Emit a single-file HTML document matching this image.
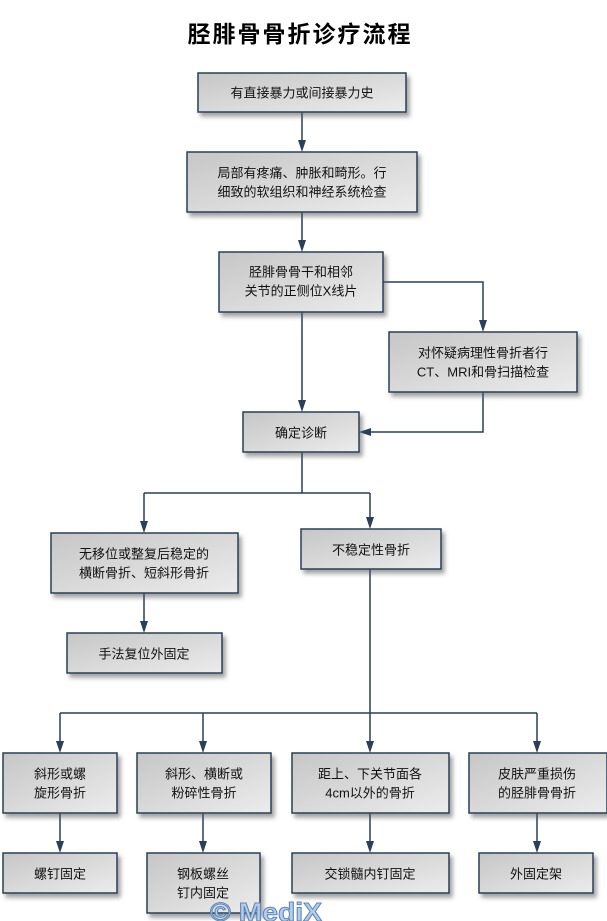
<!DOCTYPE html>
<html><head><meta charset="utf-8"><style>
html,body{margin:0;padding:0;background:#fff;}
svg{display:block;}
text{font-family:"Liberation Sans","Noto Sans CJK SC",sans-serif;}
.t{font-size:13px;fill:#111;text-anchor:middle;dominant-baseline:central;}
.l{stroke:#2b3f58;stroke-width:1.5;fill:none;}
.a{fill:#2b3f58;}
.b{fill:url(#g);stroke:#2b3f58;stroke-width:1.5;filter:url(#sh);}
</style></head><body>
<svg width="607" height="921" viewBox="0 0 607 921" xmlns="http://www.w3.org/2000/svg">
<defs>
<linearGradient id="g" x1="0" y1="0" x2="1" y2="1">
<stop offset="0" stop-color="#c6c6c6"/><stop offset="1" stop-color="#ececec"/>
</linearGradient>
<filter id="sh" x="-10%" y="-20%" width="130%" height="150%">
<feDropShadow dx="3" dy="4" stdDeviation="2" flood-color="#555" flood-opacity="0.55"/>
</filter>
</defs>
<text x="300" y="34" style="font-size:23px;font-weight:bold;letter-spacing:2px;fill:#000;text-anchor:middle;dominant-baseline:central;">胫腓骨骨折诊疗流程</text>

<!-- connectors -->
<path class="l" d="M302 112V144 M302 212V244 M302 312V404 M383 282H483V324 M483 392V432H367 M302 452V493 M144 493H370 M144 493V525 M370 493V521 M144 593V625 M370 569V713 M60 713H537 M60 713V745 M203 713V745 M370 713V745 M537 713V745 M60 813V845 M203 813V845 M370 813V845 M537 813V845"/>
<g class="a">
<path d="M302 152l-4-12h8z"/>
<path d="M302 252l-4-12h8z"/>
<path d="M302 412l-4-12h8z"/>
<path d="M483 332l-4-12h8z"/>
<path d="M359 432l12-4v8z"/>
<path d="M144 533l-4-12h8z"/>
<path d="M370 529l-4-12h8z"/>
<path d="M144 633l-4-12h8z"/>
<path d="M60 753l-4-12h8z"/>
<path d="M203 753l-4-12h8z"/>
<path d="M370 753l-4-12h8z"/>
<path d="M537 753l-4-12h8z"/>
<path d="M60 853l-4-12h8z"/>
<path d="M203 853l-4-12h8z"/>
<path d="M370 853l-4-12h8z"/>
<path d="M537 853l-4-12h8z"/>
</g>

<!-- boxes -->
<rect class="b" x="198" y="73" width="208" height="39"/>
<text class="t" x="302" y="93">有直接暴力或间接暴力史</text>

<rect class="b" x="187" y="152" width="230" height="60"/>
<text class="t" x="302" y="173">局部有疼痛、肿胀和畸形。行</text>
<text class="t" x="302" y="192">细致的软组织和神经系统检查</text>

<rect class="b" x="219" y="252" width="164" height="60"/>
<text class="t" x="301" y="272">胫腓骨骨干和相邻</text>
<text class="t" x="301" y="291">关节的正侧位X线片</text>

<rect class="b" x="389" y="332" width="188" height="60"/>
<text class="t" x="483" y="353">对怀疑病理性骨折者行</text>
<text class="t" x="483" y="372">CT、MRI和骨扫描检查</text>

<rect class="b" x="243" y="412" width="116" height="40"/>
<text class="t" x="301" y="433">确定诊断</text>

<rect class="b" x="51" y="533" width="187" height="60"/>
<text class="t" x="144" y="554">无移位或整复后稳定的</text>
<text class="t" x="144" y="573">横断骨折、短斜形骨折</text>

<rect class="b" x="301" y="529" width="140" height="40"/>
<text class="t" x="371" y="550">不稳定性骨折</text>

<rect class="b" x="67" y="633" width="155" height="40"/>
<text class="t" x="144" y="654">手法复位外固定</text>

<rect class="b" x="3" y="753" width="114" height="60"/>
<text class="t" x="60" y="774">斜形或螺</text>
<text class="t" x="60" y="793">旋形骨折</text>

<rect class="b" x="137" y="753" width="134" height="60"/>
<text class="t" x="204" y="774">斜形、横断或</text>
<text class="t" x="204" y="793">粉碎性骨折</text>

<rect class="b" x="292" y="753" width="157" height="60"/>
<text class="t" x="370" y="774">距上、下关节面各</text>
<text class="t" x="370" y="793">4cm以外的骨折</text>

<rect class="b" x="469" y="753" width="138" height="60"/>
<text class="t" x="537" y="774">皮肤严重损伤</text>
<text class="t" x="537" y="793">的胫腓骨骨折</text>

<rect class="b" x="3" y="853" width="114" height="40"/>
<text class="t" x="60" y="874">螺钉固定</text>

<rect class="b" x="147" y="853" width="113" height="60"/>
<text class="t" x="203" y="874">钢板螺丝</text>
<text class="t" x="203" y="893">钉内固定</text>

<rect class="b" x="292" y="853" width="157" height="40"/>
<text class="t" x="370" y="874">交锁髓内钉固定</text>

<rect class="b" x="479" y="853" width="114" height="40"/>
<text class="t" x="536" y="874">外固定架</text>

<!-- watermark -->
<text x="210" y="921" textLength="112" lengthAdjust="spacingAndGlyphs" style="font-size:26px;font-weight:bold;fill:#b4cde8;stroke:#5f86b8;stroke-width:1;">© MediX</text>
</svg>
</body></html>
